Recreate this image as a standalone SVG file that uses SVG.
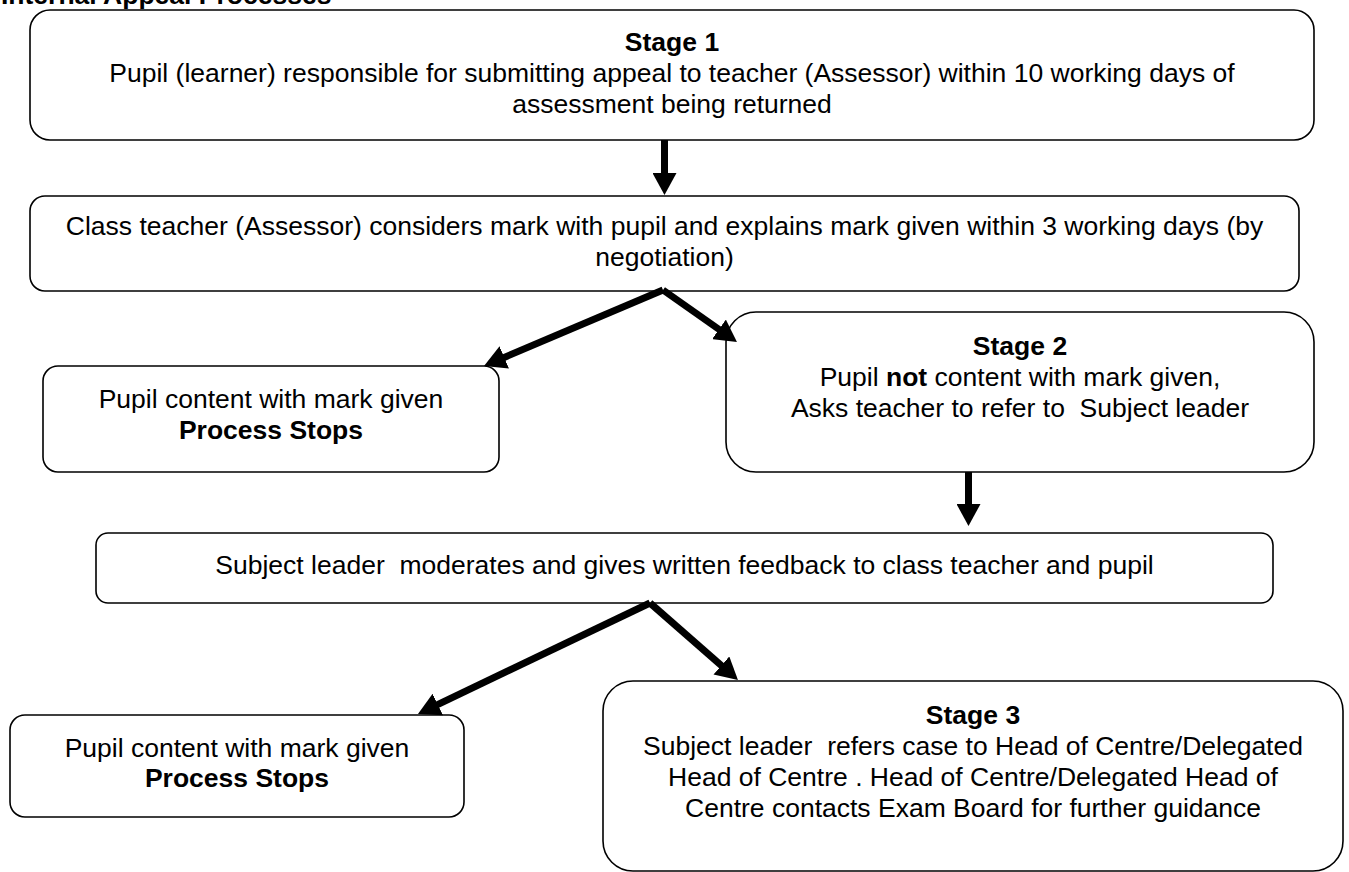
<svg xmlns="http://www.w3.org/2000/svg" width="1349" height="872" viewBox="0 0 1349 872">
<style>
text{font-family:"Liberation Sans",Arial,sans-serif;font-size:26.5px;fill:#000}
.c{text-anchor:middle}
.b{font-weight:bold}
.box{fill:#fff;stroke:#000;stroke-width:1.6}
.arr{stroke:#000;stroke-width:7;fill:none;marker-end:url(#ah)}
</style>
<defs>
<marker id="ah" markerUnits="userSpaceOnUse" markerWidth="24" markerHeight="24" refX="2" refY="12" orient="auto" viewBox="0 0 24 24">
<path d="M0,0 L22,12 L0,24 z" fill="#000"/>
</marker>
</defs>
<rect width="1349" height="872" fill="#fff"/>
<text id="title" x="1" y="4" class="b">Internal Appeal Processes</text>

<g id="stage1">
<rect class="box" x="30" y="10" width="1284" height="130" rx="20"/>
<text class="c b" x="672" y="51">Stage 1</text>
<text class="c" x="672" y="82">Pupil (learner) responsible for submitting appeal to teacher (Assessor) within 10 working days of</text>
<text class="c" x="672" y="113">assessment being returned</text>
</g>

<g id="classteacher">
<rect class="box" x="30" y="196" width="1269" height="95" rx="15"/>
<text class="c" x="664.5" y="235">Class teacher (Assessor) considers mark with pupil and explains mark given within 3 working days (by</text>
<text class="c" x="664.5" y="266">negotiation)</text>
</g>

<g id="content1">
<rect class="box" x="43" y="366" width="456" height="106" rx="15"/>
<text class="c" x="271" y="408">Pupil content with mark given</text>
<text class="c b" x="271" y="438.5">Process Stops</text>
</g>

<g id="stage2">
<rect class="box" x="726" y="312" width="588" height="160" rx="30"/>
<text class="c b" x="1020" y="355">Stage 2</text>
<text class="c" x="1020" y="386">Pupil <tspan class="b">not</tspan> content with mark given,</text>
<text class="c" x="1020" y="417" xml:space="preserve">Asks teacher to refer to  Subject leader</text>
</g>

<g id="subjectleader">
<rect class="box" x="96" y="533" width="1177" height="70" rx="12"/>
<text class="c" x="684.5" y="574" xml:space="preserve">Subject leader  moderates and gives written feedback to class teacher and pupil</text>
</g>

<g id="content2">
<rect class="box" x="10" y="715" width="454" height="102" rx="15"/>
<text class="c" x="237" y="757">Pupil content with mark given</text>
<text class="c b" x="237" y="787">Process Stops</text>
</g>

<g id="stage3">
<rect class="box" x="603" y="681" width="740" height="190" rx="30"/>
<text class="c b" x="973" y="724">Stage 3</text>
<text class="c" x="973" y="755" xml:space="preserve">Subject leader  refers case to Head of Centre/Delegated</text>
<text class="c" x="973" y="786">Head of Centre . Head of Centre/Delegated Head of</text>
<text class="c" x="973" y="817">Centre contacts Exam Board for further guidance</text>
</g>

<g id="connectors">
<line class="arr" x1="664.5" y1="140" x2="664.5" y2="175"/>
<line class="arr" x1="663" y1="290" x2="502.4" y2="358.2"/>
<line class="arr" x1="663" y1="290" x2="720.6" y2="330.5"/>
<line class="arr" x1="968.5" y1="472" x2="968.5" y2="506"/>
<line class="arr" x1="650" y1="603" x2="436" y2="705.4"/>
<line class="arr" x1="650" y1="603" x2="722.9" y2="666.8"/>
</g>
</svg>
